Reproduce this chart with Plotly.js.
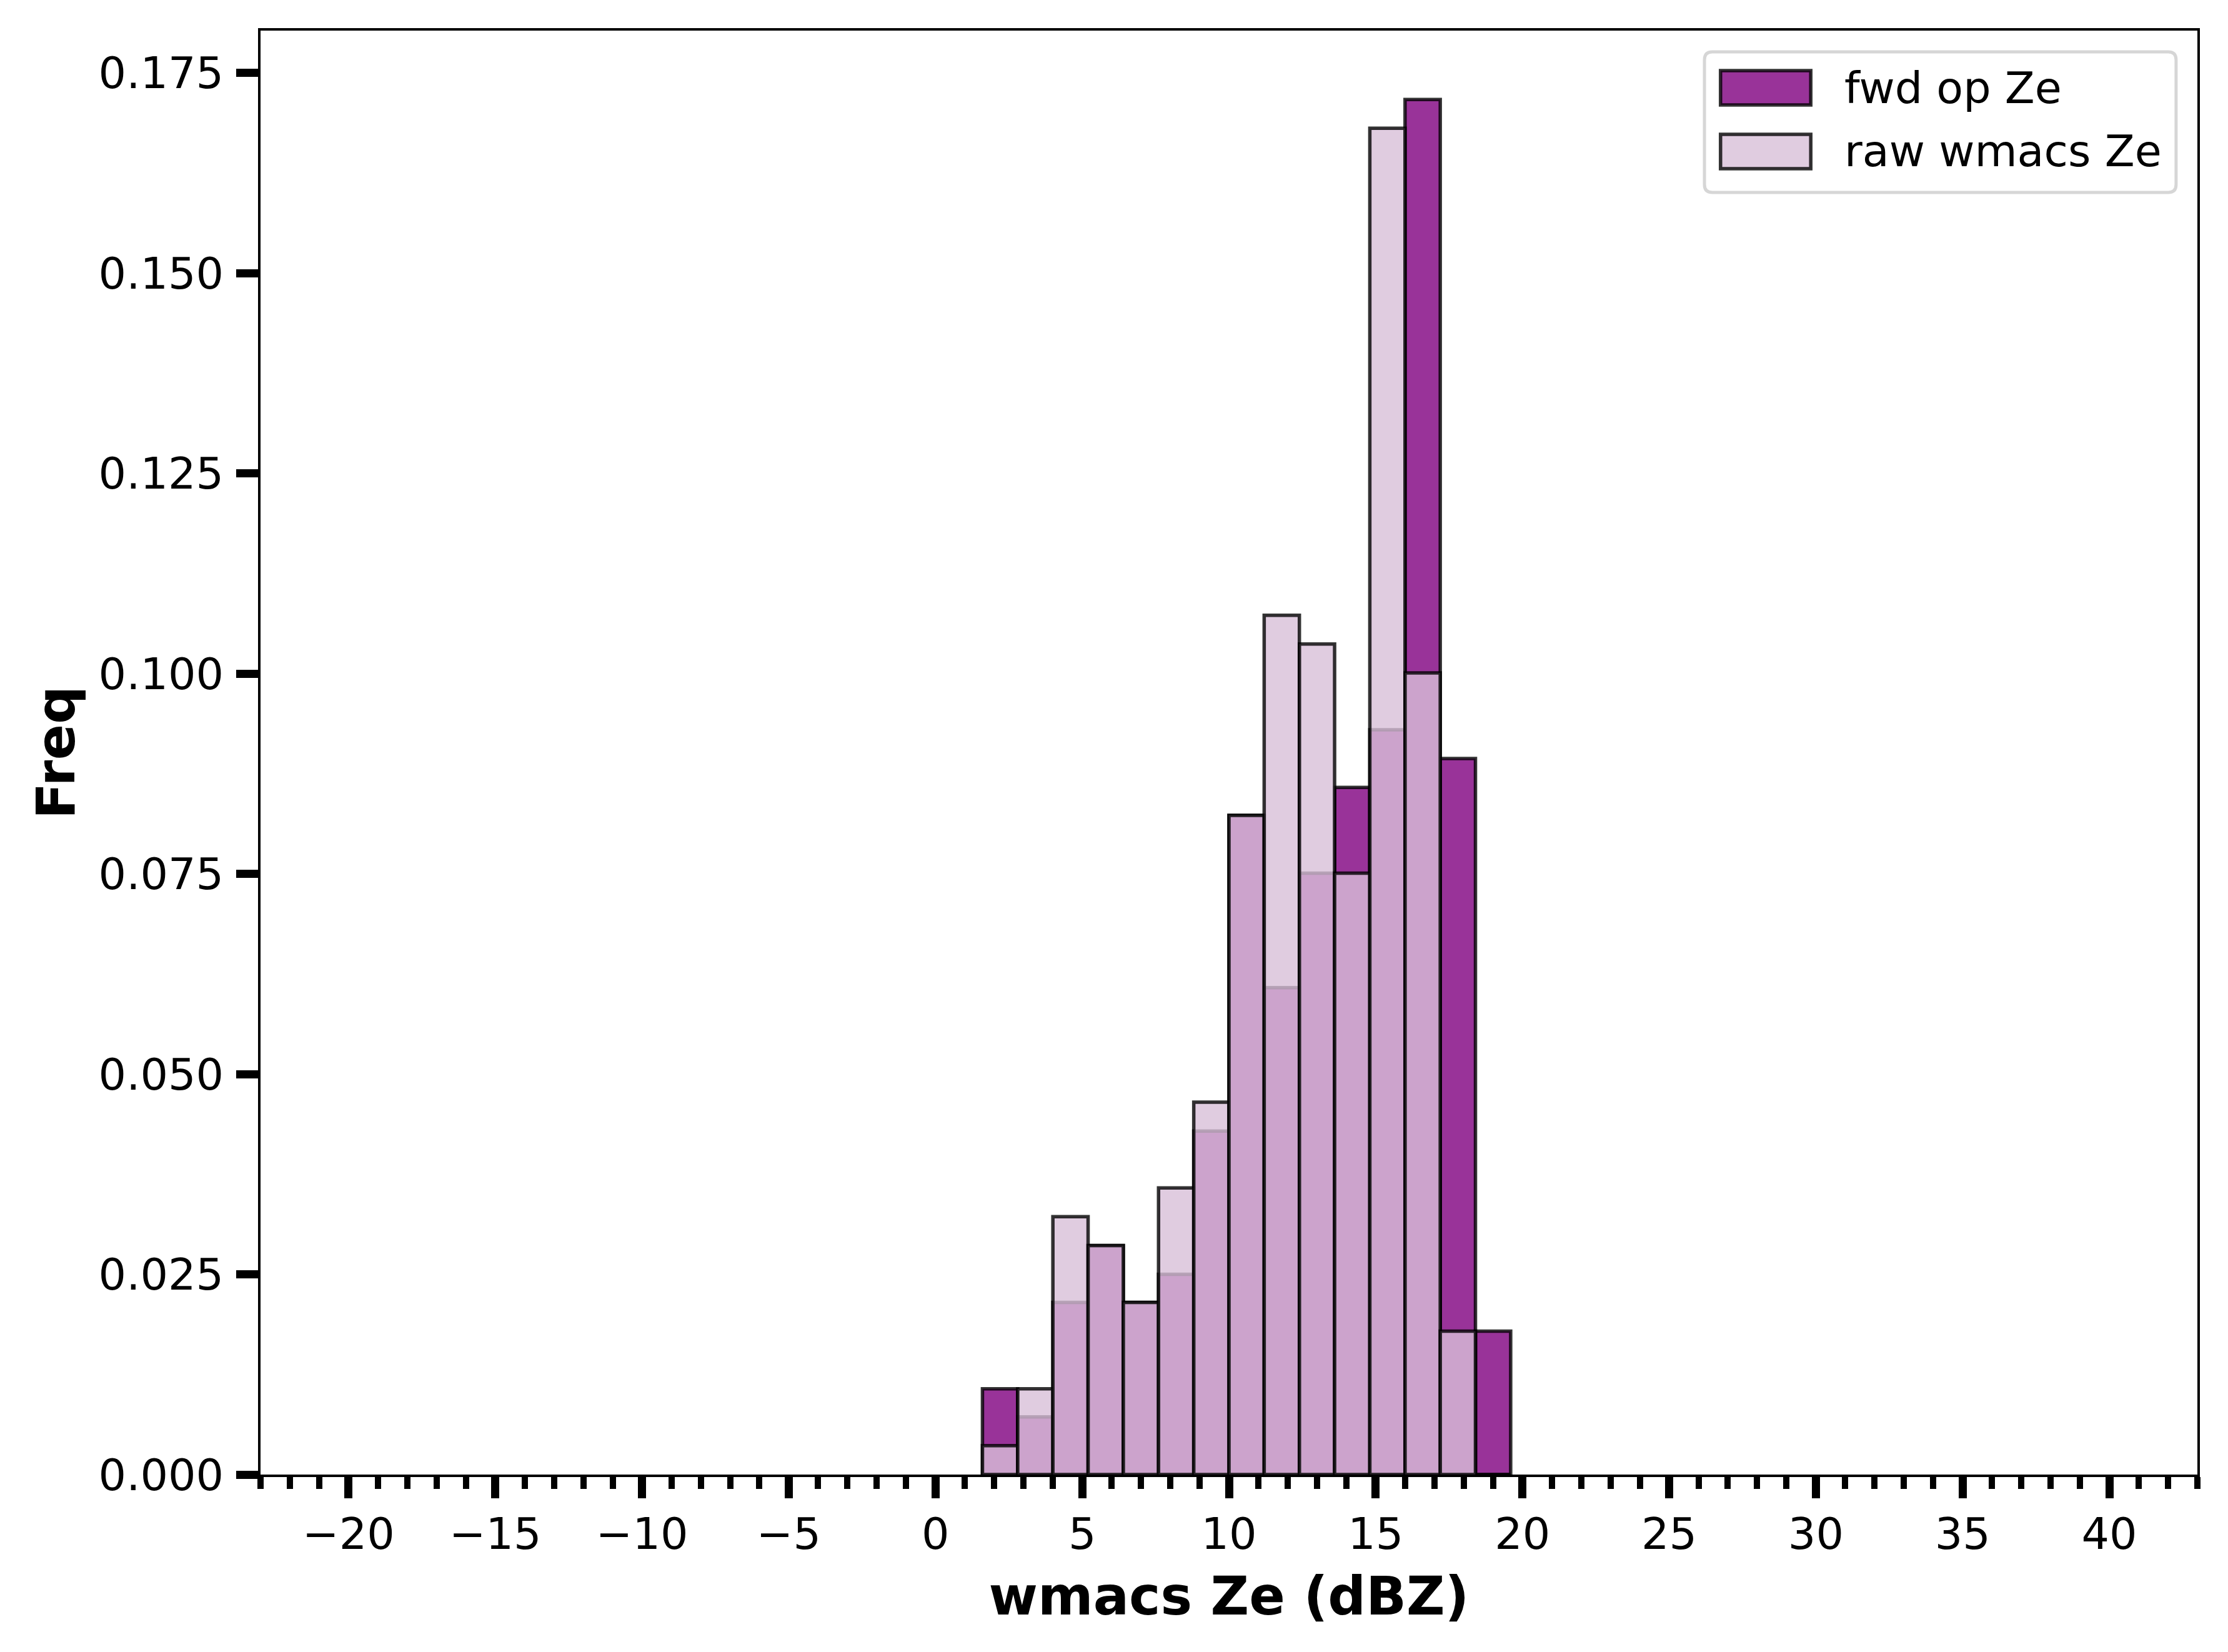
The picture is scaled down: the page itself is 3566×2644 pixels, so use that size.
<!DOCTYPE html>
<html>
<head>
<meta charset="utf-8">
<script src="https://cdn.plot.ly/plotly-3.0.1.min.js"></script>
<style>html,body{margin:0;padding:0;background:#fff;}#chart{width:3566px;height:2644px;}</style>
</head>
<body>
<div id="chart"></div>
<script>
// Histogram bins (centres, dBZ) and density values
const binCenters = [2.2, 3.4, 4.6, 5.8, 7.0, 8.2, 9.4, 10.6, 11.8, 13.0, 14.2, 15.4, 16.6, 17.8, 19.0];
const fwdFreq = [0.0107, 0.0072, 0.0215, 0.0286, 0.0215, 0.0250, 0.0429, 0.0823, 0.0608, 0.0751, 0.0858, 0.0930, 0.1717, 0.0894, 0.0179];
const rawFreq = [0.0036, 0.0107, 0.0322, 0.0286, 0.0215, 0.0358, 0.0465, 0.0823, 0.1073, 0.1037, 0.0751, 0.1681, 0.1001, 0.0179, 0.0];
const seriesNames = ['fwd op Ze', 'raw wmacs Ze'];
const yTickVals = [0, 0.025, 0.05, 0.075, 0.1, 0.125, 0.15, 0.175];
const xTickVals = [-20, -15, -10, -5, 0, 5, 10, 15, 20, 25, 30, 35, 40];

const binWidth = 1.2;
const fwdFill = 'rgba(128,0,128,0.8)';
const rawFill = 'rgba(216,191,216,0.8)';
const edge = 'rgba(0,0,0,0.8)';
const FONT = 'DejaVu Sans, Liberation Sans, sans-serif';

const traces = [
  {type: 'bar', name: seriesNames[0], x: binCenters, y: fwdFreq, width: binCenters.map(() => binWidth),
   marker: {color: fwdFill, line: {color: edge, width: 5.5}}, showlegend: false},
  {type: 'bar', name: seriesNames[1], x: binCenters, y: rawFreq, width: binCenters.map(() => binWidth),
   marker: {color: rawFill, line: {color: edge, width: 5.5}}, showlegend: false}
];

// manual legend (paper coordinates)
const lx0 = 0.7455, lx1 = 0.9890, ly0 = 0.8879, ly1 = 0.9853, rx = 0.004, ry = 0.0055;
const legendPath = `M ${lx0+rx},${ly1} L ${lx1-rx},${ly1} Q ${lx1},${ly1} ${lx1},${ly1-ry} L ${lx1},${ly0+ry} Q ${lx1},${ly0} ${lx1-rx},${ly0} L ${lx0+rx},${ly0} Q ${lx0},${ly0} ${lx0},${ly0+ry} L ${lx0},${ly1-ry} Q ${lx0},${ly1} ${lx0+rx},${ly1} Z`;
const shapes = [
  {type: 'path', xref: 'paper', yref: 'paper', path: legendPath, fillcolor: 'rgba(255,255,255,0.8)', line: {color: '#d6d6d6', width: 5}},
  {type: 'rect', xref: 'paper', yref: 'paper', x0: 0.7538, x1: 0.8004, y0: 0.9485, y1: 0.9723, fillcolor: fwdFill, line: {color: edge, width: 5.5}},
  {type: 'rect', xref: 'paper', yref: 'paper', x0: 0.7538, x1: 0.8004, y0: 0.9044, y1: 0.9282, fillcolor: rawFill, line: {color: edge, width: 5.5}}
];
const annotations = [
  {xref: 'paper', yref: 'paper', x: 0.8170, y: 0.9604, xanchor: 'left', yanchor: 'middle', text: seriesNames[0], showarrow: false, font: {family: FONT, size: 70, color: '#000'}},
  {xref: 'paper', yref: 'paper', x: 0.8170, y: 0.9163, xanchor: 'left', yanchor: 'middle', text: seriesNames[1], showarrow: false, font: {family: FONT, size: 70, color: '#000'}}
];

const layout = {
  width: 3566, height: 2644,
  margin: {l: 417, r: 49, t: 49, b: 284, pad: 0},
  paper_bgcolor: '#fff', plot_bgcolor: '#fff',
  barmode: 'overlay', bargap: 0,
  font: {family: FONT, size: 70, color: '#000'},
  showlegend: false,
  xaxis: {
    range: [-23, 43], tickvals: xTickVals, ticks: 'outside', ticklen: 34, tickwidth: 13, tickcolor: '#000',
    showline: true, mirror: true, linecolor: '#000', linewidth: 4, showgrid: false, zeroline: false,
    tickfont: {family: FONT, size: 70, color: '#000'}, ticklabelstandoff: -3,
    minor: {dtick: 1, tick0: 0, ticks: 'outside', ticklen: 19, tickwidth: 10, tickcolor: '#000', showgrid: false},
    title: {text: 'wmacs Ze (dBZ)', font: {family: FONT, size: 85, color: '#000', weight: 'bold'}, standoff: 30}
  },
  yaxis: {
    range: [0, 0.1803], tickvals: yTickVals, tickformat: '.3f', ticks: 'outside', ticklen: 35, tickwidth: 13, tickcolor: '#000',
    showline: true, mirror: true, linecolor: '#000', linewidth: 4, showgrid: false, zeroline: false,
    tickfont: {family: FONT, size: 70, color: '#000'}, ticklabelstandoff: 6,
    title: {text: 'Freq', font: {family: FONT, size: 85, color: '#000', weight: 'bold'}, standoff: 11}
  },
  shapes: shapes,
  annotations: annotations
};

Plotly.newPlot('chart', traces, layout, {staticPlot: true, displayModeBar: false});
</script>
</body>
</html>
